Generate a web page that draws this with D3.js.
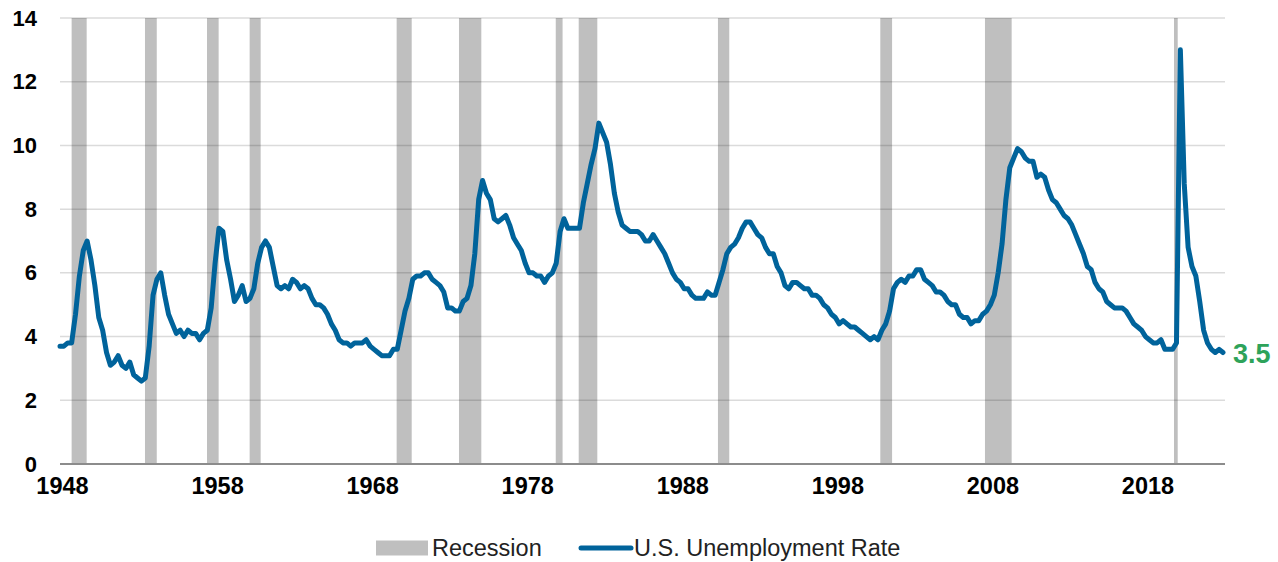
<!DOCTYPE html>
<html>
<head>
<meta charset="utf-8">
<script src="https://cdn.jsdelivr.net/npm/d3@7"></script>
<style>
  body { margin: 0; background: #fff; }
  svg { display: block; font-family: "Liberation Sans", Arial, sans-serif; }
</style>
</head>
<body>
<div id="chart"></div>
<script>
// quarterly U.S. unemployment rate, 1948 Q1 .. 2023 Q1
const startYear = 1948;
const unemployment = [
    3.7, 3.7, 3.8, 3.8,   4.7, 5.9, 6.7, 7.0,   6.4, 5.6, 4.6, 4.2,   3.5, 3.1, 3.2, 3.4,
    3.1, 3.0, 3.2, 2.8,   2.7, 2.6, 2.7, 3.7,   5.3, 5.8, 6.0, 5.3,   4.7, 4.4, 4.1, 4.2,
    4.0, 4.2, 4.1, 4.1,   3.9, 4.1, 4.2, 4.9,   6.3, 7.4, 7.3, 6.4,   5.8, 5.1, 5.3, 5.6,
    5.1, 5.2, 5.5, 6.3,   6.8, 7.0, 6.8, 6.2,   5.6, 5.5, 5.6, 5.5,   5.8, 5.7, 5.5, 5.6,
    5.5, 5.2, 5.0, 5.0,   4.9, 4.7, 4.4, 4.2,   3.9, 3.8, 3.8, 3.7,   3.8, 3.8, 3.8, 3.9,
    3.7, 3.6, 3.5, 3.4,   3.4, 3.4, 3.6, 3.6,   4.2, 4.8, 5.2, 5.8,   5.9, 5.9, 6.0, 6.0,
    5.8, 5.7, 5.6, 5.4,   4.9, 4.9, 4.8, 4.8,   5.1, 5.2, 5.6, 6.6,   8.3, 8.9, 8.5, 8.3,
    7.7, 7.6, 7.7, 7.8,   7.5, 7.1, 6.9, 6.7,   6.3, 6.0, 6.0, 5.9,   5.9, 5.7, 5.9, 6.0,
    6.3, 7.3, 7.7, 7.4,   7.4, 7.4, 7.4, 8.2,   8.8, 9.4, 9.9, 10.7,  10.4, 10.1, 9.4, 8.5,
    7.9, 7.5, 7.4, 7.3,   7.3, 7.3, 7.2, 7.0,   7.0, 7.2, 7.0, 6.8,   6.6, 6.3, 6.0, 5.8,
    5.7, 5.5, 5.5, 5.3,   5.2, 5.2, 5.2, 5.4,   5.3, 5.3, 5.7, 6.1,   6.6, 6.8, 6.9, 7.1,
    7.4, 7.6, 7.6, 7.4,   7.2, 7.1, 6.8, 6.6,   6.6, 6.2, 6.0, 5.6,   5.5, 5.7, 5.7, 5.6,
    5.5, 5.5, 5.3, 5.3,   5.2, 5.0, 4.9, 4.7,   4.6, 4.4, 4.5, 4.4,   4.3, 4.3, 4.2, 4.1,
    4.0, 3.9, 4.0, 3.9,   4.2, 4.4, 4.8, 5.5,   5.7, 5.8, 5.7, 5.9,   5.9, 6.1, 6.1, 5.8,
    5.7, 5.6, 5.4, 5.4,   5.3, 5.1, 5.0, 5.0,   4.7, 4.6, 4.6, 4.4,   4.5, 4.5, 4.7, 4.8,
    5.0, 5.3, 6.0, 6.9,   8.3, 9.3, 9.6, 9.9,   9.8, 9.6, 9.5, 9.5,   9.0, 9.1, 9.0, 8.6,
    8.3, 8.2, 8.0, 7.8,   7.7, 7.5, 7.2, 6.9,   6.6, 6.2, 6.1, 5.7,   5.5, 5.4, 5.1, 5.0,
    4.9, 4.9, 4.9, 4.8,   4.6, 4.4, 4.3, 4.2,   4.0, 3.9, 3.8, 3.8,   3.9, 3.6, 3.6, 3.6,
    3.8, 13.0, 8.8, 6.8,  6.2, 5.9, 5.1, 4.2,   3.8, 3.6, 3.5, 3.6,   3.5
];

// recession periods (decimal years)
const recessionStart = [1948.75, 1953.48, 1957.48, 1960.23, 1969.71, 1973.73, 1979.97, 1981.45, 1990.43, 2000.90, 2007.65, 2019.84];
const recessionEnd   = [1949.72, 1954.24, 1958.23, 1960.94, 1970.68, 1975.17, 1980.41, 1982.65, 1991.16, 2001.66, 2009.37, 2020.08];

const yTicks = [0, 2, 4, 6, 8, 10, 12, 14];
const xTickYears = [1948, 1958, 1968, 1978, 1988, 1998, 2008, 2018];
const legendLabels = ["Recession", "U.S. Unemployment Rate"];

const data = unemployment.map((v, i) => ({ t: startYear + i / 4, value: v }));
const last = data[data.length - 1];

const width = 1278, height = 562;
const plot = { left: 60, right: 1223, top: 18, bottom: 464 };

const lineColor = "#00639b";
const barColor = "#bfbfbf";

const svg = d3.select("#chart")
    .append("svg")
    .attr("width", width)
    .attr("height", height);

const xScale = d3.scaleLinear()
    .domain([startYear, last.t])
    .range([plot.left, plot.right]);

const yScale = d3.scaleLinear()
    .domain([0, 14])
    .range([plot.bottom, plot.top]);

// recession bars
svg.append("g")
    .selectAll("rect")
    .data(recessionStart.map((s, i) => ({ s: s, e: recessionEnd[i] })))
    .join("rect")
    .attr("x", d => xScale(d.s))
    .attr("width", d => xScale(d.e) - xScale(d.s))
    .attr("y", yScale(14))
    .attr("height", yScale(0) - yScale(14))
    .attr("fill", barColor);

// gridlines
svg.append("g")
    .selectAll("line")
    .data(yTicks.filter(d => d > 0))
    .join("line")
    .attr("x1", plot.left)
    .attr("x2", xScale.range()[1] + 2)
    .attr("y1", d => yScale(d))
    .attr("y2", d => yScale(d))
    .attr("stroke", "rgba(0,0,0,0.14)")
    .attr("stroke-width", 1.5);

// y axis labels
const yAxis = svg.append("g")
    .attr("transform", `translate(${plot.left},0)`)
    .call(d3.axisLeft(yScale).tickValues(yTicks).tickSize(0).tickPadding(23));
yAxis.select(".domain").remove();
yAxis.selectAll("text")
    .style("font-size", "22px")
    .style("font-weight", "bold")
    .style("fill", "#000")
    .style("font-family", "'Liberation Sans', Arial, sans-serif");

// x axis
const xAxis = svg.append("g")
    .attr("transform", `translate(0,${plot.bottom})`)
    .call(d3.axisBottom(xScale).tickValues(xTickYears).tickFormat(d3.format("d")).tickSize(0).tickPadding(13));
xAxis.select(".domain")
    .attr("d", `M${plot.left},0H${plot.right + 2}`)
    .attr("stroke", "#8c8c8c")
    .attr("stroke-width", 2);
xAxis.selectAll("text")
    .attr("dx", 2)
    .style("font-size", "23.5px")
    .style("font-weight", "bold")
    .style("fill", "#000")
    .style("font-family", "'Liberation Sans', Arial, sans-serif");

// unemployment line
const line = d3.line()
    .x(d => xScale(d.t))
    .y(d => yScale(d.value));

svg.append("path")
    .datum(data)
    .attr("d", line)
    .attr("fill", "none")
    .attr("stroke", lineColor)
    .attr("stroke-width", 5)
    .attr("stroke-linejoin", "round")
    .attr("stroke-linecap", "round");

// last value label
svg.append("text")
    .attr("x", xScale(last.t) + 10)
    .attr("y", yScale(last.value) + 10)
    .text(last.value.toFixed(1))
    .style("font-size", "27px")
    .style("font-weight", "bold")
    .style("fill", "#2ea35a");

// legend
const legend = svg.append("g").attr("transform", "translate(0,548)");
legend.append("rect")
    .attr("x", 376).attr("y", -7.5)
    .attr("width", 52).attr("height", 15)
    .attr("fill", barColor);
legend.append("text")
    .attr("x", 432).attr("y", 8)
    .text(legendLabels[0])
    .style("font-size", "23.5px")
    .style("fill", "#222");
legend.append("line")
    .attr("x1", 581).attr("x2", 631)
    .attr("y1", 0).attr("y2", 0)
    .attr("stroke", lineColor)
    .attr("stroke-width", 5)
    .attr("stroke-linecap", "round");
legend.append("text")
    .attr("x", 634).attr("y", 8)
    .text(legendLabels[1])
    .style("font-size", "23.5px")
    .style("fill", "#222");
</script>
</body>
</html>
